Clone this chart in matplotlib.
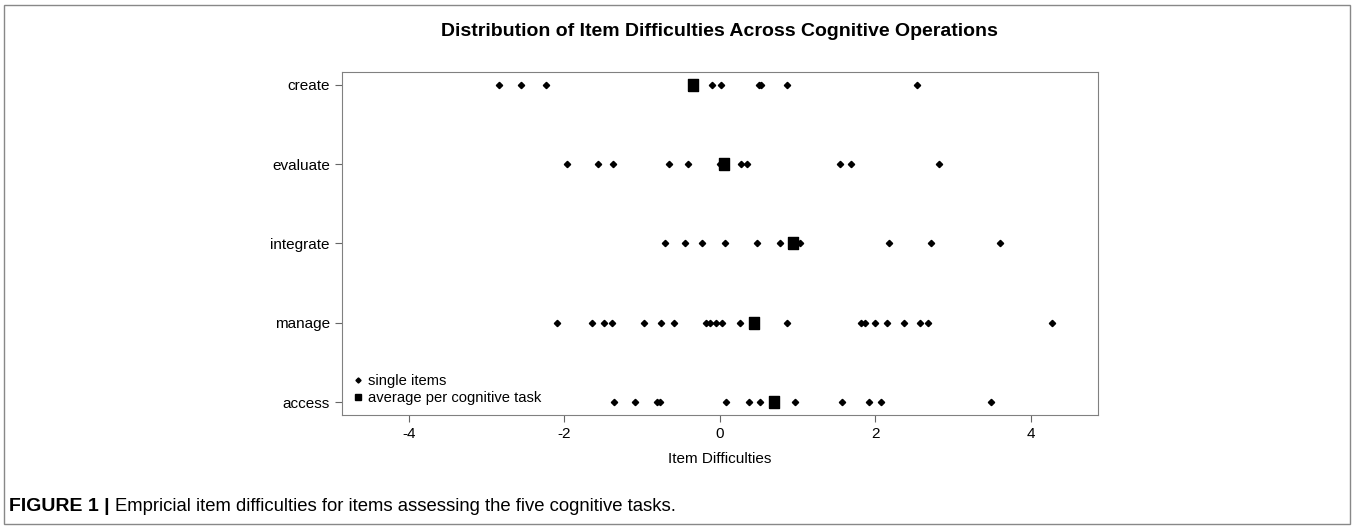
import numpy as np
import matplotlib.pyplot as plt
from matplotlib.patches import Rectangle

plt.rcParams['font.family'] = ['Liberation Sans', 'DejaVu Sans']
plt.rcParams['axes.unicode_minus'] = False

# cognitive operations, bottom to top
tasks = ['access', 'manage', 'integrate', 'evaluate', 'create']

# item difficulties
access = [-1.36, -1.09, -0.81, -0.77, 0.08, 0.38, 0.52, 0.97, 1.57, 1.92, 2.07, 3.48]
manage = [-2.09, -1.64, -1.49, -1.38, -0.97, -0.76, -0.59, -0.18, -0.13, -0.05, 0.03,
          0.26, 0.86, 1.81, 1.86, 1.99, 2.15, 2.37, 2.57, 2.67, 4.27]
integrate = [-0.71, -0.45, -0.23, 0.07, 0.48, 0.77, 1.03, 2.17, 2.72, 3.60]
evaluate = [-1.96, -1.57, -1.37, -0.66, -0.41, 0.00, 0.27, 0.35, 1.55, 1.68, 2.82]
create = [-2.84, -2.55, -2.23, -0.10, 0.02, 0.50, 0.53, 0.86, 2.53]
items = [access, manage, integrate, evaluate, create]

# averages per cognitive task (squares)
averages = [0.69, 0.44, 0.94, 0.05, -0.34]

# slightly tall square like R's pch 15
rect = [(-0.4, -0.5), (0.4, -0.5), (0.4, 0.5), (-0.4, 0.5), (-0.4, -0.5)]

fig = plt.figure(figsize=(13.54, 5.29), dpi=100)
ax = fig.add_axes([0.2524, 0.2155, 0.5585, 0.6484])

for i, vals in enumerate(items):
    ax.plot(vals, [i + 1] * len(vals), linestyle='none', marker='D',
            markersize=3.2, color='black')
ax.plot(averages, np.arange(1, 6), linestyle='none', marker=rect,
        markersize=9, color='black')

# legend handles with smaller symbols
ax.plot([], [], linestyle='none', marker='D', markersize=2.6, color='black', label='single items')
ax.plot([], [], linestyle='none', marker='s', markersize=4.5, color='black',
        label='average per cognitive task')

ax.set_xlim(-4.86, 4.86)
ax.set_ylim(0.84, 5.16)
ax.set_xticks([-4, -2, 0, 2, 4])
ax.set_yticks(np.arange(1, 6))
ax.set_yticklabels(tasks)
ax.tick_params(labelsize=11, length=5, color='#666666', direction='out')
for s in ax.spines.values():
    s.set_color('#808080')

ax.set_xlabel('Item Difficulties', fontsize=11, labelpad=8)
ax.set_title('Distribution of Item Difficulties Across Cognitive Operations',
             fontsize=14, fontweight='bold', pad=26)

ax.legend(loc='lower left', frameon=False, fontsize=10.6, handletextpad=0.25,
          borderaxespad=0.3, handlelength=0.8, labelspacing=0.2)

# outer frame and caption
fig.patches.append(Rectangle((0.003, 0.01), 0.994, 0.98, transform=fig.transFigure,
                             fill=False, edgecolor='#888888', linewidth=1))
cap_bold = fig.text(0.0067, 0.042, 'FIGURE 1 |', fontsize=14, fontweight='bold', va='center')
fig.canvas.draw()
bb = cap_bold.get_window_extent()
fig.text((bb.x1 + 5) / fig.bbox.width, 0.042,
         'Empricial item difficulties for items assessing the five cognitive tasks.',
         fontsize=13.3, va='center')

plt.savefig('out.png', dpi=100)
